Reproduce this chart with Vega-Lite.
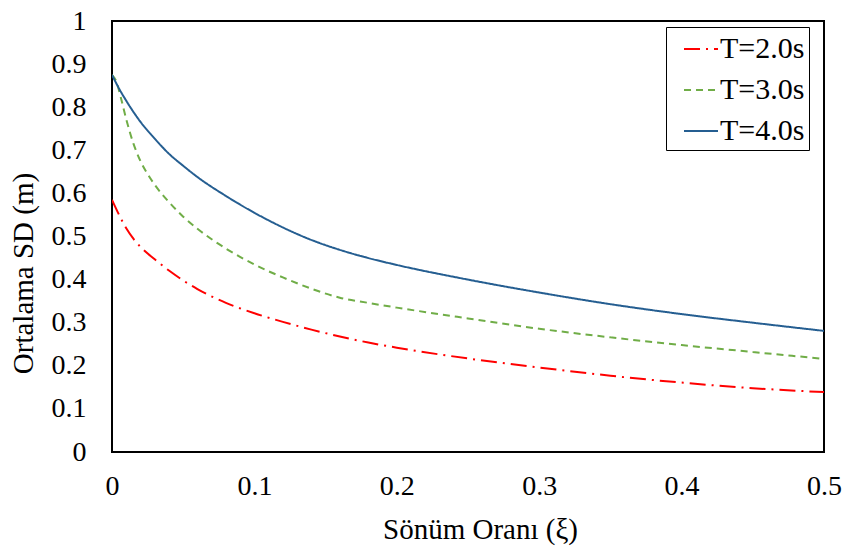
{
  "$schema": "https://vega.github.io/schema/vega-lite/v6.json",
  "autosize": "none",
  "width": 712,
  "height": 431,
  "padding": {"left": 112, "top": 21, "right": 23, "bottom": 100},
  "background": "white",
  "config": {
    "view": {"stroke": "#000000", "strokeWidth": 2},
    "font": "Liberation Serif",
    "axis": {"labelFont": "Liberation Serif", "titleFont": "Liberation Serif"},
    "legend": {"labelFont": "Liberation Serif"}
  },
  "datasets": {
    "d": [
      {"xi": 0, "sd": 0.585, "s": "T=2.0s"},
      {"xi": 0.005, "sd": 0.55, "s": "T=2.0s"},
      {"xi": 0.01, "sd": 0.519, "s": "T=2.0s"},
      {"xi": 0.015, "sd": 0.495, "s": "T=2.0s"},
      {"xi": 0.02, "sd": 0.476, "s": "T=2.0s"},
      {"xi": 0.03, "sd": 0.447, "s": "T=2.0s"},
      {"xi": 0.04, "sd": 0.421, "s": "T=2.0s"},
      {"xi": 0.05, "sd": 0.398, "s": "T=2.0s"},
      {"xi": 0.06, "sd": 0.378, "s": "T=2.0s"},
      {"xi": 0.08, "sd": 0.346, "s": "T=2.0s"},
      {"xi": 0.1, "sd": 0.322, "s": "T=2.0s"},
      {"xi": 0.12, "sd": 0.302, "s": "T=2.0s"},
      {"xi": 0.14, "sd": 0.284, "s": "T=2.0s"},
      {"xi": 0.16, "sd": 0.268, "s": "T=2.0s"},
      {"xi": 0.18, "sd": 0.254, "s": "T=2.0s"},
      {"xi": 0.2, "sd": 0.242, "s": "T=2.0s"},
      {"xi": 0.25, "sd": 0.217, "s": "T=2.0s"},
      {"xi": 0.3, "sd": 0.196, "s": "T=2.0s"},
      {"xi": 0.35, "sd": 0.177, "s": "T=2.0s"},
      {"xi": 0.4, "sd": 0.161, "s": "T=2.0s"},
      {"xi": 0.45, "sd": 0.148, "s": "T=2.0s"},
      {"xi": 0.5, "sd": 0.139, "s": "T=2.0s"},
      {"xi": 0, "sd": 0.875, "s": "T=3.0s"},
      {"xi": 0.003, "sd": 0.86, "s": "T=3.0s"},
      {"xi": 0.006, "sd": 0.825, "s": "T=3.0s"},
      {"xi": 0.01, "sd": 0.772, "s": "T=3.0s"},
      {"xi": 0.015, "sd": 0.716, "s": "T=3.0s"},
      {"xi": 0.02, "sd": 0.675, "s": "T=3.0s"},
      {"xi": 0.025, "sd": 0.645, "s": "T=3.0s"},
      {"xi": 0.03, "sd": 0.62, "s": "T=3.0s"},
      {"xi": 0.04, "sd": 0.58, "s": "T=3.0s"},
      {"xi": 0.05, "sd": 0.546, "s": "T=3.0s"},
      {"xi": 0.06, "sd": 0.518, "s": "T=3.0s"},
      {"xi": 0.08, "sd": 0.472, "s": "T=3.0s"},
      {"xi": 0.1, "sd": 0.435, "s": "T=3.0s"},
      {"xi": 0.12, "sd": 0.405, "s": "T=3.0s"},
      {"xi": 0.14, "sd": 0.379, "s": "T=3.0s"},
      {"xi": 0.16, "sd": 0.358, "s": "T=3.0s"},
      {"xi": 0.18, "sd": 0.346, "s": "T=3.0s"},
      {"xi": 0.2, "sd": 0.335, "s": "T=3.0s"},
      {"xi": 0.25, "sd": 0.31, "s": "T=3.0s"},
      {"xi": 0.3, "sd": 0.286, "s": "T=3.0s"},
      {"xi": 0.35, "sd": 0.266, "s": "T=3.0s"},
      {"xi": 0.4, "sd": 0.248, "s": "T=3.0s"},
      {"xi": 0.45, "sd": 0.232, "s": "T=3.0s"},
      {"xi": 0.5, "sd": 0.216, "s": "T=3.0s"},
      {"xi": 0, "sd": 0.875, "s": "T=4.0s"},
      {"xi": 0.005, "sd": 0.843, "s": "T=4.0s"},
      {"xi": 0.01, "sd": 0.815, "s": "T=4.0s"},
      {"xi": 0.02, "sd": 0.766, "s": "T=4.0s"},
      {"xi": 0.03, "sd": 0.727, "s": "T=4.0s"},
      {"xi": 0.04, "sd": 0.692, "s": "T=4.0s"},
      {"xi": 0.05, "sd": 0.664, "s": "T=4.0s"},
      {"xi": 0.06, "sd": 0.638, "s": "T=4.0s"},
      {"xi": 0.08, "sd": 0.594, "s": "T=4.0s"},
      {"xi": 0.1, "sd": 0.555, "s": "T=4.0s"},
      {"xi": 0.12, "sd": 0.521, "s": "T=4.0s"},
      {"xi": 0.14, "sd": 0.492, "s": "T=4.0s"},
      {"xi": 0.16, "sd": 0.469, "s": "T=4.0s"},
      {"xi": 0.18, "sd": 0.45, "s": "T=4.0s"},
      {"xi": 0.2, "sd": 0.434, "s": "T=4.0s"},
      {"xi": 0.25, "sd": 0.4, "s": "T=4.0s"},
      {"xi": 0.3, "sd": 0.37, "s": "T=4.0s"},
      {"xi": 0.35, "sd": 0.343, "s": "T=4.0s"},
      {"xi": 0.4, "sd": 0.32, "s": "T=4.0s"},
      {"xi": 0.45, "sd": 0.3, "s": "T=4.0s"},
      {"xi": 0.5, "sd": 0.281, "s": "T=4.0s"}
    ]
  },
  "data": {"name": "d"},
  "mark": {"type": "line", "strokeWidth": 2, "clip": true, "interpolate": "monotone"},
  "encoding": {
    "x": {
      "field": "xi", "type": "quantitative",
      "scale": {"domain": [0, 0.5], "nice": false, "zero": false},
      "axis": {
        "title": "Sönüm Oranı (ξ)",
        "values": [0, 0.1, 0.2, 0.3, 0.4, 0.5],
        "format": "~g",
        "grid": false, "ticks": false, "tickSize": 0, "domain": false,
        "labelFont": "Liberation Serif", "labelFontSize": 28, "labelColor": "#000000",
        "labelPadding": 20, "labelFlush": false,
        "titleFont": "Liberation Serif", "titleFontSize": 29, "titleFontWeight": "normal", "titleColor": "#000000",
        "titleX": 368, "titleY": 86, "titleBaseline": "alphabetic", "titleAlign": "center"
      }
    },
    "y": {
      "field": "sd", "type": "quantitative",
      "scale": {"domain": [0, 1], "nice": false, "zero": false},
      "axis": {
        "title": "Ortalama SD (m)",
        "values": [0, 0.1, 0.2, 0.3, 0.4, 0.5, 0.6, 0.7, 0.8, 0.9, 1],
        "format": "~g",
        "grid": false, "ticks": false, "tickSize": 0, "domain": false,
        "labelFont": "Liberation Serif", "labelFontSize": 28, "labelColor": "#000000",
        "labelPadding": 26, "labelFlush": false,
        "titleFont": "Liberation Serif", "titleFontSize": 29, "titleFontWeight": "normal", "titleColor": "#000000",
        "titleX": -80, "titleY": 252, "titleBaseline": "alphabetic", "titleAlign": "center", "titleAngle": -90
      }
    },
    "color": {
      "field": "s", "type": "nominal",
      "scale": {"domain": ["T=2.0s", "T=3.0s", "T=4.0s"], "range": ["#FF0000", "#70AD47", "#255E91"]},
      "legend": {
        "title": null,
        "orient": "none", "legendX": 554, "legendY": 6,
        "symbolType": "stroke", "symbolSize": 1156, "symbolStrokeWidth": 2,
        "symbolOffset": 13,
        "labelFont": "Liberation Serif", "labelFontSize": 30, "labelColor": "#000000",
        "labelOffset": 1, "rowPadding": 8,
        "labelExpr": "datum.label + '\u00a0\u00a0'",
        "padding": 4, "strokeColor": "#000000", "fillColor": "#FFFFFF"
      }
    },
    "strokeDash": {
      "field": "s", "type": "nominal",
      "scale": {"domain": ["T=2.0s", "T=3.0s", "T=4.0s"], "range": [[16, 6, 2, 6], [7, 5], [1, 0]]},
      "legend": {
        "title": null,
        "orient": "none", "legendX": 554, "legendY": 6,
        "symbolType": "stroke", "symbolSize": 1156, "symbolStrokeWidth": 2,
        "symbolOffset": 13,
        "labelFont": "Liberation Serif", "labelFontSize": 30, "labelColor": "#000000",
        "labelOffset": 1, "rowPadding": 8,
        "labelExpr": "datum.label + '\u00a0\u00a0'",
        "padding": 4, "strokeColor": "#000000", "fillColor": "#FFFFFF"
      }
    }
  }
}
